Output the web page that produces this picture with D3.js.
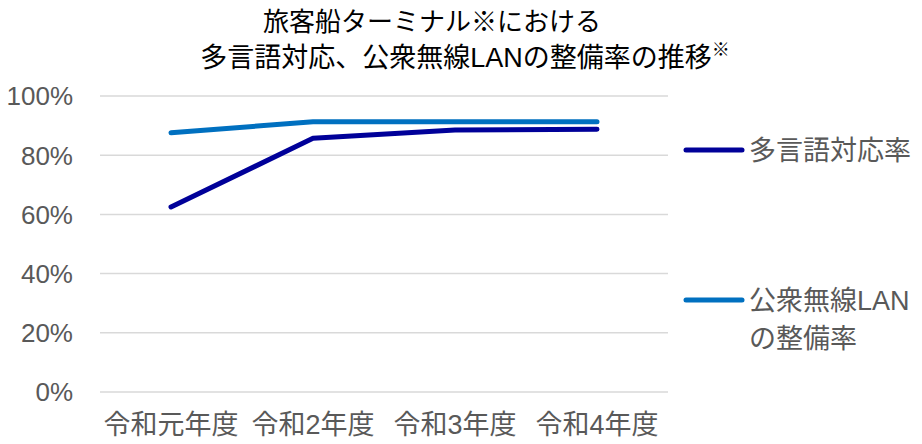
<!DOCTYPE html>
<html><head><meta charset="utf-8">
<script src="https://cdn.jsdelivr.net/npm/d3@7"></script>
<style>body{margin:0;background:#fff}svg{display:block}text{font-family:"Liberation Sans","Noto Sans CJK JP",sans-serif}</style>
</head><body><svg id="c" width="922" height="444"></svg>
<script>
const categories = ["令和元年度","令和2年度","令和3年度","令和4年度"];
const multilingual = [0.625, 0.857, 0.885, 0.8875];
const wifi = [0.876, 0.913, 0.913, 0.913];
const yTicks = [0, 0.2, 0.4, 0.6, 0.8, 1.0];
const seriesNames = ["多言語対応率", "公衆無線LAN\nの整備率"];
const colors = ["#000099", "#0070C0"];

const svg = d3.select("#c");
const x = d3.scaleBand().domain(categories).range([100, 668]);
const y = d3.scaleLinear().domain([0, 1]).range([392, 96]);
const grey = "#595959";

svg.append("g").selectAll("line").data(yTicks).join("line")
  .attr("x1", 100).attr("x2", 668)
  .attr("y1", d => y(d)).attr("y2", d => y(d))
  .attr("stroke", "#d9d9d9").attr("stroke-width", 1.5);

svg.append("g").selectAll("text").data(yTicks).join("text")
  .attr("x", 73).attr("y", d => y(d)).attr("dy", "0.36em")
  .attr("text-anchor", "end").attr("fill", grey).attr("font-size", 26)
  .text(d => d3.format(".0%")(d));

svg.append("g").selectAll("text").data(categories).join("text")
  .attr("x", d => x(d) + x.bandwidth()/2).attr("y", 434)
  .attr("text-anchor", "middle").attr("fill", grey).attr("font-size", 27)
  .text(d => d);

const line = d3.line().x((d, i) => x(categories[i]) + x.bandwidth()/2).y(d => y(d));
[multilingual, wifi].forEach((s, k) => {
  svg.append("path").datum(s).attr("d", line).attr("fill", "none")
    .attr("stroke", colors[k]).attr("stroke-width", 5)
    .attr("stroke-linecap", "round").attr("stroke-linejoin", "round");
});

const legY = [150, 300];
seriesNames.forEach((n, k) => {
  svg.append("line").attr("x1", 686).attr("x2", 742).attr("y1", legY[k]).attr("y2", legY[k])
    .attr("stroke", colors[k]).attr("stroke-width", 5).attr("stroke-linecap", "round");
  const t = svg.append("text").attr("x", 749).attr("y", legY[k])
    .attr("fill", grey).attr("font-size", 27);
  n.split("\n").forEach((ln, j) => {
    t.append("tspan").attr("x", 749).attr("dy", j === 0 ? "0.36em" : "1.4em").text(ln);
  });
});

svg.append("text").attr("x", 432).attr("y", 31).attr("text-anchor", "middle")
  .attr("font-size", 26).attr("fill", "#000").text("旅客船ターミナル※における");
const t2 = svg.append("text").attr("x", 465).attr("y", 67).attr("text-anchor", "middle")
  .attr("font-size", 27).attr("fill", "#000");
t2.append("tspan").text("多言語対応、公衆無線LANの整備率の推移");
t2.append("tspan").attr("font-size", 18).attr("dy", -11).text("※");
</script></body></html>
